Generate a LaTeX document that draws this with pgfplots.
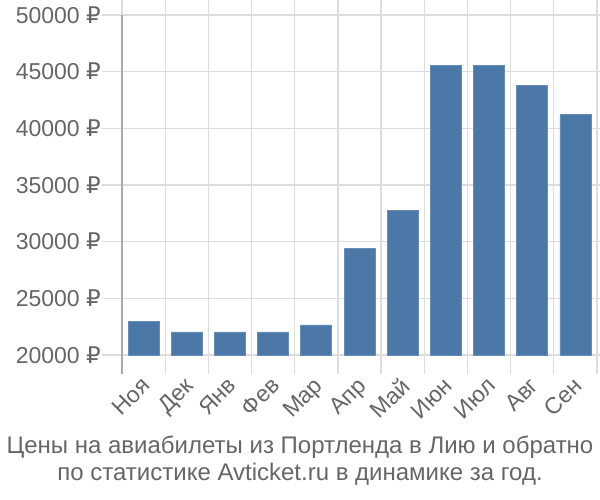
\documentclass[border=0pt]{standalone}
\usepackage{fontspec}
\setmainfont{Liberation Sans}
\newfontfamily\rubfont{DejaVu Sans}
\usepackage{pgfplots}
\pgfplotsset{compat=1.18}
\definecolor{barc}{HTML}{4C78A8}
\definecolor{gridc}{HTML}{DDDDDD}
\definecolor{axc}{HTML}{AAAAAA}
\definecolor{txt}{HTML}{666666}
\newcommand{\rub}{{\rubfont ₽}}
\begin{document}
\begin{tikzpicture}[x=1pt,y=1pt]
\useasboundingbox (0,0) rectangle (600,500);
\begin{axis}[
  at={(122pt,145pt)}, anchor=south west,
  scale only axis, width=475pt, height=340pt,
  xmin=-0.5, xmax=10.5, ymin=20000, ymax=50000,
  scaled y ticks=false,
  axis line style={draw=none},
  clip=false,
  tick align=outside,
  xtick={0,...,10},
  xticklabels={Ноя,Дек,Янв,Фев,Мар,Апр,Май,Июн,Июл,Авг,Сен},
  minor xtick={-0.5,0.5,1.5,2.5,3.5,4.5,5.5,6.5,7.5,8.5,9.5,10.5},
  xminorgrids=true, xmajorgrids=false, ymajorgrids=true,
  grid style={draw=gridc, line width=1.2pt},
  minor grid style={draw=gridc, line width=1.2pt},
  every major x tick/.style={draw=none},
  every minor x tick/.style={draw=gridc, line width=1.2pt},
  every major y tick/.style={draw=gridc, line width=1.2pt},
  major tick length=20pt, minor tick length=19pt,
  ytick={20000,25000,30000,35000,40000,45000,50000},
  yticklabels={20000 \rub,25000 \rub,30000 \rub,35000 \rub,40000 \rub,45000 \rub,50000 \rub},
  tick label style={font=\fontsize{23}{26}\selectfont, text=txt},
  yticklabel style={inner sep=1pt},
  xticklabel style={rotate=45, anchor=north east, inner sep=0pt, xshift=-3pt, yshift=2pt},
  ybar, bar width=31pt,
]
\addplot[fill=barc, draw=barc!85!white, line width=0.8pt] coordinates {
(0,22950) (1,22030) (2,22030) (3,22030) (4,22650) (5,29430) (6,32790) (7,45570) (8,45570) (9,43810) (10,41250)};
\draw[axc, line width=1.2pt] (rel axis cs:0,1) -- ([yshift=-19pt]rel axis cs:0,0);
\end{axis}
\node[text=txt, font=\fontsize{24}{27}\selectfont] at (300,53) {Цены на авиабилеты из Портленда в Лию и обратно};
\node[text=txt, font=\fontsize{24}{27}\selectfont] at (300,26) {по статистике Avticket.ru в динамике за год.};
\end{tikzpicture}
\end{document}
